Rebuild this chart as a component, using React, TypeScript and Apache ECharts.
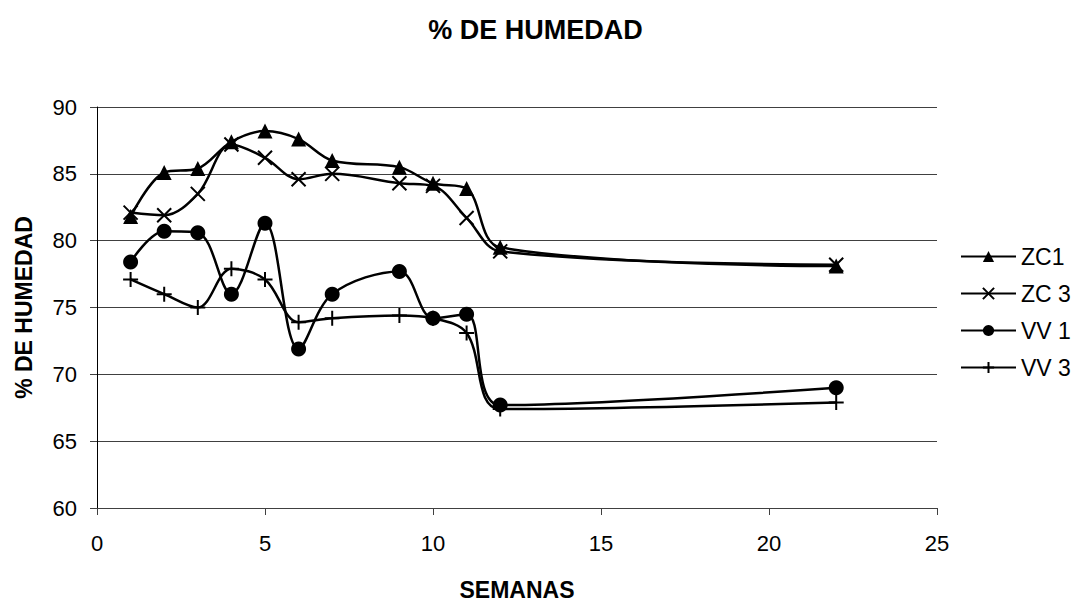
import React, { useEffect, useRef } from "react";
import * as echarts from "echarts";

const weeks = [1, 2, 3, 4, 5, 6, 7, 9, 10, 11, 12, 22];
const zc1 = [81.8, 85.1, 85.4, 87.4, 88.2, 87.6, 86.0, 85.5, 84.3, 83.9, 79.5, 78.1];
const zc3 = [82.1, 81.9, 83.5, 87.2, 86.2, 84.6, 85.0, 84.3, 84.1, 81.7, 79.2, 78.2];
const vv1 = [78.4, 80.7, 80.6, 76.0, 81.3, 71.9, 76.0, 77.7, 74.2, 74.5, 67.7, 69.0];
const vv3 = [77.1, 76.0, 75.0, 77.9, 77.1, 73.9, 74.2, 74.4, 74.2, 73.1, 67.4, 67.9];
const seriesNames = ["ZC1", "ZC 3", "VV 1", "VV 3"];

const xSym = "path://M0,0L10,10M10,0L0,10";
const plusSym = "path://M5,0L5,10M0,5L10,5";

export default function App() {
  const ref = useRef<HTMLDivElement>(null);
  useEffect(() => {
    if (!ref.current) return;
    const chart = echarts.init(ref.current, undefined, { renderer: "svg" });
    const font = "Liberation Sans, Arial, sans-serif";
    const mk = (name: string, vals: number[], symbol: string, size: number, stroke: boolean) => ({
      name,
      type: "line",
      smooth: 0.35,
      data: weeks.map((w, i) => [w, vals[i]]),
      symbol,
      symbolSize: size,
      showAllSymbol: true,
      lineStyle: { color: "#000", width: 2.5 },
      itemStyle: stroke
        ? { color: "#000", borderColor: "#000", borderWidth: 2 }
        : { color: "#000", borderWidth: 0 },
      emphasis: { disabled: true },
    });
    chart.setOption({
      animation: false,
      backgroundColor: "#fff",
      textStyle: { fontFamily: font },
      title: {
        text: "% DE HUMEDAD",
        left: "center",
        top: 11,
        textStyle: { fontSize: 27, fontWeight: "bold", color: "#000", fontFamily: font },
      },
      legend: {
        orient: "vertical",
        left: 955,
        top: 240,
        itemWidth: 55,
        itemHeight: 14,
        itemGap: 14,
        textStyle: { fontSize: 23, color: "#000", fontFamily: font },
        data: seriesNames,
      },
      grid: { left: 97, top: 107, width: 840, height: 405, containLabel: false },
      xAxis: {
        type: "value",
        min: 0,
        max: 25,
        interval: 5,
        name: "SEMANAS",
        nameLocation: "middle",
        nameGap: 70,
        nameTextStyle: { fontSize: 23, fontWeight: "bold", color: "#000" },
        axisLine: { show: true, onZero: false, lineStyle: { color: "#404040", width: 1 } },
        axisTick: { show: true, length: 7, lineStyle: { color: "#404040" } },
        axisLabel: { fontSize: 22, color: "#000", margin: 24 },
        splitLine: { show: false },
      },
      yAxis: {
        type: "value",
        min: 60,
        max: 90,
        interval: 5,
        name: "% DE HUMEDAD",
        nameLocation: "middle",
        nameRotate: 90,
        nameGap: 62,
        nameTextStyle: { fontSize: 23, fontWeight: "bold", color: "#000" },
        axisLine: { show: true, lineStyle: { color: "#000", width: 1 } },
        axisTick: { show: true, length: 7, lineStyle: { color: "#404040" } },
        axisLabel: { fontSize: 22, color: "#000", margin: 20 },
        splitLine: { show: true, lineStyle: { color: "#404040", width: 1 } },
      },
      series: [
        mk("ZC1", zc1, "triangle", 15, false),
        mk("ZC 3", zc3, xSym, 14, true),
        mk("VV 1", vv1, "circle", 15, false),
        mk("VV 3", vv3, plusSym, 15, true),
      ],
    });
    return () => chart.dispose();
  }, []);
  return (
    <div
      ref={ref}
      style={{ position: "fixed", left: 0, top: 0, width: 1071, height: 606, background: "#fff" }}
    />
  );
}
